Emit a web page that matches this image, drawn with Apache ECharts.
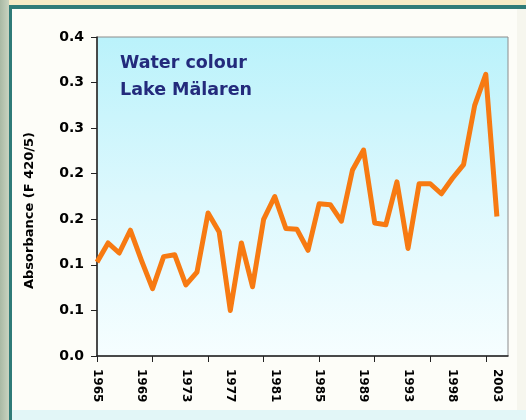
<!DOCTYPE html>
<html>
<head>
<meta charset="utf-8">
<script src="https://cdn.jsdelivr.net/npm/echarts@6/dist/echarts.min.js"></script>
<style>
  html, body { margin: 0; padding: 0; }
  #frame { position: relative; width: 526px; height: 420px; overflow: hidden; background: #fdfdf8; }
  .deco { position: absolute; }
  #chart { position: absolute; left: 0; top: 0; width: 526px; height: 420px; }
</style>
</head>
<body>
<div id="frame">
  <div class="deco" style="left:0;top:0;width:526px;height:6px;background:#f6ebc6;"></div>
  <div class="deco" style="left:0;top:5px;width:526px;height:4px;background:#2f7b78;"></div>
  <div class="deco" style="left:0;top:0;width:9px;height:420px;background:linear-gradient(90deg,#a9b9a4,#c9d3c0);"></div>
  <div class="deco" style="left:9px;top:5px;width:3px;height:415px;background:#2f7b78;"></div>
  <div class="deco" style="left:12px;top:410px;width:514px;height:10px;background:#e2f6f7;"></div>
  <div class="deco" style="left:517px;top:9px;width:9px;height:401px;background:#f6f6ee;"></div>
  <div id="chart"></div>
</div>
<script>
// Data
var categories = [
  '1965','1966','1967','1968','1969','1970','1971','1972','1973','1974',
  '1975','1976','1977','1978','1979','1980','1981','1982','1983','1984',
  '1985','1986','1987','1988','1989','1990','1991','1992','1993','1994',
  '1995','1997','1998','2000','2001','2002','2003','2004'
];
var absorbance = [
  0.103, 0.124, 0.113, 0.138, 0.105, 0.074, 0.109, 0.111, 0.078, 0.092,
  0.157, 0.136, 0.050, 0.124, 0.076, 0.150, 0.175, 0.140, 0.139, 0.116,
  0.167, 0.166, 0.148, 0.204, 0.226, 0.146, 0.144, 0.191, 0.118, 0.189,
  0.189, 0.178, 0.195, 0.210, 0.275, 0.309, 0.153, null
];
var yTickLabels = ['0.0', '0.1', '0.1', '0.2', '0.2', '0.3', '0.3', '0.4'];
var titleLines = ['Water colour', 'Lake Mälaren'];
var yAxisTitle = 'Absorbance (F 420/5)';

var chart = echarts.init(document.getElementById('chart'), null, { renderer: 'canvas' });
var boldFont = 'DejaVu Sans';
chart.setOption({
  animation: false,
  backgroundColor: 'transparent',
  title: {
    text: titleLines.join('\n'),
    left: 115,
    top: 45,
    textStyle: {
      fontFamily: boldFont,
      fontWeight: 'bold',
      fontSize: 17.5,
      lineHeight: 27,
      color: '#232a7c'
    }
  },
  grid: {
    left: 97,
    top: 37,
    right: 18,
    bottom: 64,
    show: true,
    borderColor: '#8c8c8c',
    borderWidth: 1,
    backgroundColor: new echarts.graphic.LinearGradient(0, 0, 0, 1, [
      { offset: 0, color: '#baf2fb' },
      { offset: 0.5, color: '#dcf8fd' },
      { offset: 1, color: '#f6feff' }
    ])
  },
  xAxis: {
    type: 'category',
    data: categories,
    boundaryGap: false,
    axisLine: { lineStyle: { color: '#222', width: 1.5 } },
    axisTick: { show: true, interval: 4, length: 6, inside: false, lineStyle: { color: '#222' } },
    axisLabel: {
      interval: 3,
      rotate: -90,
      margin: 13,
      fontFamily: boldFont,
      fontWeight: 'bold',
      fontSize: 12,
      color: '#000'
    },
    splitLine: { show: false }
  },
  yAxis: {
    type: 'value',
    min: 0,
    max: 0.35,
    interval: 0.05,
    name: yAxisTitle,
    nameLocation: 'middle',
    nameRotate: 90,
    nameGap: 61,
    nameTextStyle: {
      fontFamily: boldFont,
      fontWeight: 'bold',
      fontSize: 13,
      color: '#000',
      padding: [0, 28, 0, 0]
    },
    axisLine: { show: true, lineStyle: { color: '#222', width: 1.5 } },
    axisTick: { show: true, length: 6, lineStyle: { color: '#222' } },
    axisLabel: {
      margin: 13,
      fontFamily: boldFont,
      fontWeight: 'bold',
      fontSize: 14,
      color: '#000',
      formatter: function (v) {
        var i = Math.round(v / 0.05);
        return yTickLabels[i] !== undefined ? yTickLabels[i] : '';
      }
    },
    splitLine: { show: false }
  },
  series: [{
    type: 'line',
    data: absorbance,
    showSymbol: false,
    symbol: 'none',
    connectNulls: false,
    lineStyle: { color: '#f77a12', width: 5, join: 'round' }
  }]
});
</script>
</body>
</html>
